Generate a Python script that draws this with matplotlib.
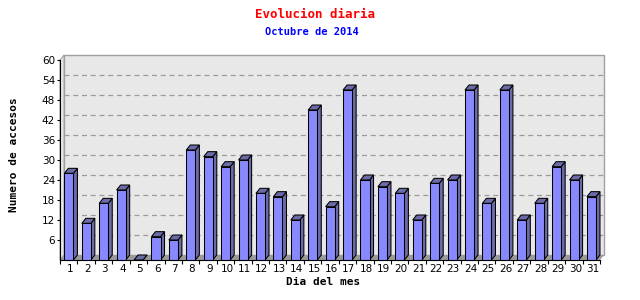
import numpy as np
import matplotlib
matplotlib.use("Agg")
import matplotlib.pyplot as plt
from matplotlib.patches import Polygon, Rectangle

# data
dias = [str(d) for d in range(1, 32)]
accesos = [26, 11, 17, 21, 0, 7, 6, 33, 31, 28, 30, 20, 19, 12, 45, 16,
           51, 24, 22, 20, 12, 23, 24, 51, 17, 51, 12, 17, 28, 24, 19]
y_ticks = [6, 12, 18, 24, 30, 36, 42, 48, 54, 60]

titulo = "Evolucion diaria"
subtitulo = "Octubre de 2014"
x_title = "Dia del mes"
y_title = "Numero de accesos"

# colours
front_col = "#8888ff"
side_col = "#6b6ba8"
wall_col = "#e8e8e8"
floor_col = "#9a9a9a"
border_col = "#a0a0a0"

W, H = 640, 300
fig = plt.figure(figsize=(6.4, 3.0), dpi=100)
# front plane of the plot: x 60..600 px, y 60..260 px (from top)
ax = fig.add_axes([60 / W, 40 / H, 540 / W, 200 / H])
n = len(accesos)
ymax = 60
ax.set_xlim(0, n)
ax.set_ylim(0, ymax)
ax.set_facecolor("none")

# 3d depth, in data units (4 px right, 5 px up)
dx = 4 / (540 / n)
dy = 5 / (200 / ymax)

# back wall, floor and left wall
ax.add_patch(Rectangle((dx, dy), n, ymax, facecolor=wall_col,
                       edgecolor=border_col, lw=1.0, clip_on=False, zorder=0))
ax.add_patch(Polygon([(0, 0), (0, ymax), (dx, ymax + dy), (dx, dy)],
                     closed=True, facecolor=wall_col, edgecolor=border_col,
                     lw=0.75, clip_on=False, zorder=0.5))
ax.add_patch(Polygon([(0, 0), (n, 0), (n + dx, dy), (dx, dy)], closed=True,
                     facecolor=floor_col, edgecolor="none", clip_on=False,
                     zorder=0.6))

# dashed grid on the back wall
for v in y_ticks[:-1]:
    ax.plot([dx, n + dx], [v + dy, v + dy], color="#9a9a9a", lw=0.9,
            dashes=(4, 3), clip_on=False, zorder=0.7)

# bars with a simple 3d look
bw = 0.52
for i, v in enumerate(accesos):
    xl = i + 0.25
    xr = xl + bw
    ax.add_patch(Polygon([(xr, 0), (xr + dx, dy), (xr + dx, v + dy), (xr, v)],
                         closed=True, facecolor=side_col, edgecolor="black",
                         lw=0.75, clip_on=False, zorder=2))
    ax.add_patch(Polygon([(xl, v), (xl + dx, v + dy), (xr + dx, v + dy), (xr, v)],
                         closed=True, facecolor=side_col, edgecolor="black",
                         lw=0.75, clip_on=False, zorder=2))
    ax.bar(xl, v, width=bw, align="edge", color=front_col, edgecolor="black",
           linewidth=0.75, zorder=3, clip_on=False)

# axes
for s in ["top", "right"]:
    ax.spines[s].set_visible(False)
for s in ["left", "bottom"]:
    ax.spines[s].set_color("black")
    ax.spines[s].set_linewidth(0.8)
    ax.spines[s].set_zorder(4)

ax.set_yticks(y_ticks)
ax.set_yticklabels([str(t) for t in y_ticks])
ax.tick_params(axis="y", direction="out", length=2.5, width=0.8, pad=1,
               labelsize=7.5, colors="black")

ax.set_xticks(np.arange(0, n + 1))
ax.set_xticklabels([])
ax.tick_params(axis="x", which="major", direction="out", length=3, width=0.8)
ax.set_xticks(np.arange(n) + 0.58, minor=True)
ax.set_xticklabels(dias, minor=True)
ax.tick_params(axis="x", which="minor", length=0, pad=3, labelsize=7.5)

mono = "DejaVu Sans Mono"
fig.text(315 / W, 1 - 14 / H, titulo, color="red", family=mono,
         weight="bold", fontsize=9, ha="center", va="center")
fig.text(312 / W, 1 - 32 / H, subtitulo, color="blue", family=mono,
         weight="bold", fontsize=7.5, ha="center", va="center")
fig.text(323 / W, 1 - 282 / H, x_title, color="black", family=mono,
         weight="bold", fontsize=8, ha="center", va="center")
fig.text(14 / W, 1 - 155 / H, y_title, color="black", family=mono,
         weight="bold", fontsize=8, ha="center", va="center", rotation=90)

fig.savefig("out.png", dpi=100, facecolor="white")
